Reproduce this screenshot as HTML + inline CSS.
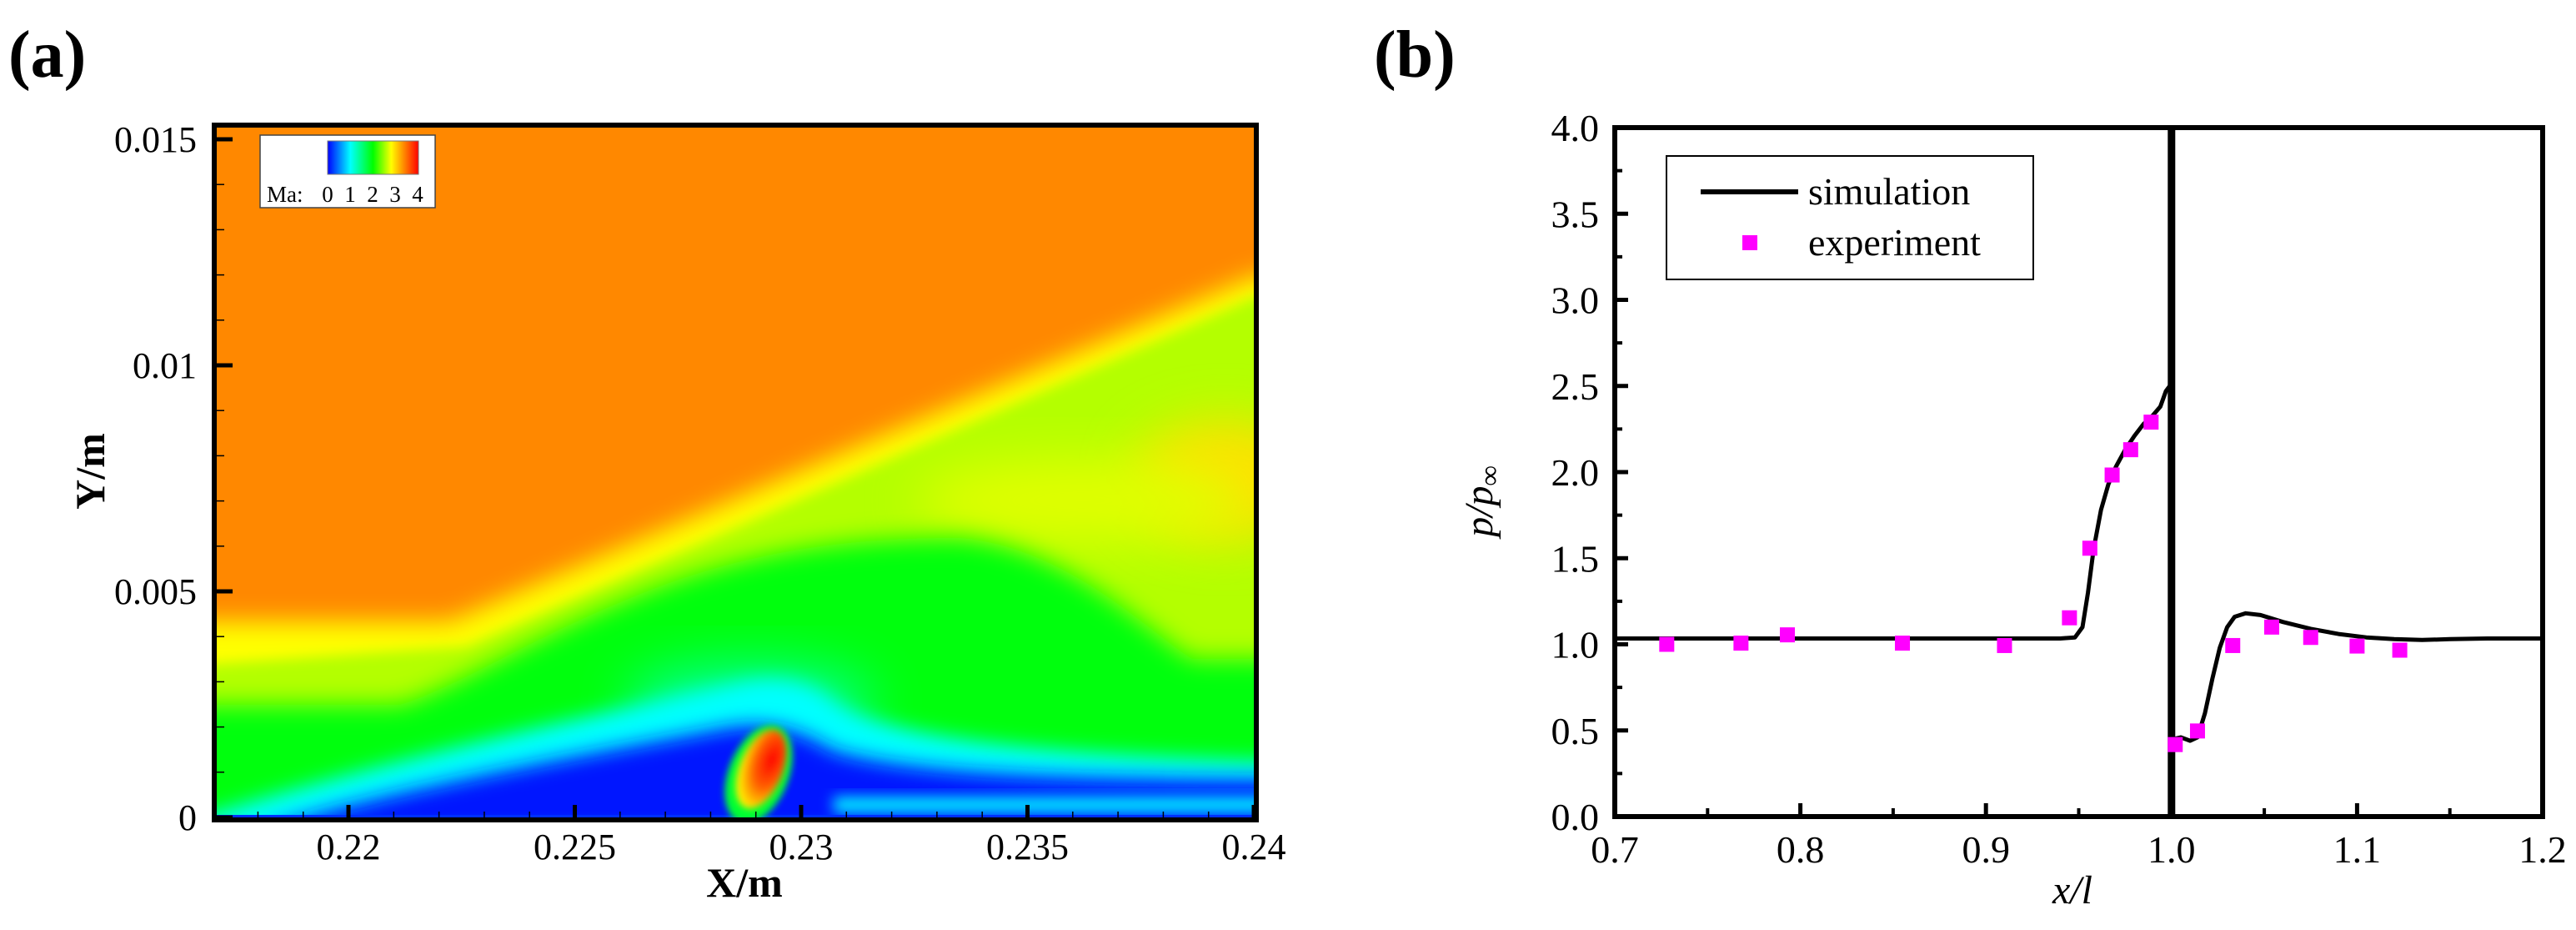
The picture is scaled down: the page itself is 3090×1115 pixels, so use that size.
<!DOCTYPE html>
<html><head><meta charset="utf-8"><style>
html,body{margin:0;padding:0;background:#fff;}
svg, svg text{font-family:"Liberation Serif","DejaVu Serif","Times New Roman",serif;}
</style></head><body>
<svg id="fig" width="3090" height="1110" viewBox="0 0 3090 1110" xmlns="http://www.w3.org/2000/svg">
<defs>
<clipPath id="clipA"><rect x="257" y="150" width="1250" height="833"/></clipPath>
<filter id="b4" x="-50%" y="-50%" width="200%" height="200%"><feGaussianBlur stdDeviation="4"/></filter>
<filter id="b8" x="-50%" y="-50%" width="200%" height="200%"><feGaussianBlur stdDeviation="8"/></filter>
<filter id="b12" x="-50%" y="-50%" width="200%" height="200%"><feGaussianBlur stdDeviation="12"/></filter>
<filter id="b15" x="-50%" y="-50%" width="200%" height="200%"><feGaussianBlur stdDeviation="15"/></filter>
<filter id="b30" x="-50%" y="-50%" width="200%" height="200%"><feGaussianBlur stdDeviation="30"/></filter>
<linearGradient id="cbar" x1="0" x2="1" y1="0" y2="0">
<stop offset="0" stop-color="#0000ff"/><stop offset="0.25" stop-color="#00ffff"/><stop offset="0.5" stop-color="#00ff00"/><stop offset="0.7" stop-color="#ffff00"/><stop offset="1" stop-color="#ff0000"/>
</linearGradient>
<radialGradient id="bub" cx="0.65" cy="0.35" r="0.65"><stop offset="0" stop-color="#ff0000"/><stop offset="0.55" stop-color="#ff6000"/><stop offset="1" stop-color="#ffee00"/></radialGradient>
</defs>

<text x="10" y="92" font-size="80" font-weight="bold">(a)</text>
<g clip-path="url(#clipA)">
<rect x="257" y="150" width="1250" height="833" fill="#ff8800"/>
<polygon points="200,745 540,745 1507,330 1600,330 1600,1000 200,1000" fill="#ffff00" filter="url(#b15)"/>
<polygon points="200,800 560,775 1507,355 1600,355 1600,1000 200,1000" fill="#b4ff00" filter="url(#b8)"/>
<ellipse cx="1470" cy="575" rx="110" ry="70" fill="#ffe000" filter="url(#b30)"/>
<ellipse cx="1300" cy="600" rx="200" ry="50" fill="#e0ff00" filter="url(#b30)"/>
<path d="M200,845 L480,845 C560,820 640,760 800,700 C900,665 1000,645 1150,645 C1280,655 1380,760 1430,790 L1600,790 L1600,1000 L200,1000 Z" fill="#00ff10" filter="url(#b15)"/>
<ellipse cx="900" cy="840" rx="150" ry="45" fill="#00ff90" filter="url(#b30)"/>
<path d="M200,985 L257,975 C400,930 600,880 880,820 C930,808 970,815 1000,840 C1060,880 1200,905 1600,915 L1600,1000 L200,1000 Z" fill="#00ffff" filter="url(#b12)"/>
<path d="M320,995 C450,950 700,905 860,875 C920,862 960,875 1000,900 C1100,930 1300,935 1600,935 L1600,1000 L320,1000 Z" fill="#0018ff" filter="url(#b12)"/>
<rect x="1000" y="955" width="600" height="20" fill="#00e8ff" filter="url(#b8)"/>
<rect x="257" y="977" width="1250" height="6" fill="#0030ff"/>
<ellipse cx="910" cy="928" rx="36" ry="62" transform="rotate(22 910 928)" fill="#00ff30" filter="url(#b4)"/>
<ellipse cx="913" cy="922" rx="26" ry="50" transform="rotate(22 913 922)" fill="url(#bub)" filter="url(#b4)"/>
</g>
<g>
<rect x="312" y="162" width="210" height="87" fill="#fff" stroke="#444" stroke-width="1.5"/>
<rect x="393" y="169" width="109" height="40" fill="url(#cbar)" stroke="#777" stroke-width="1"/>
<text x="320" y="242" font-size="27">Ma:</text>
<text x="393" y="242" font-size="27" text-anchor="middle">0</text>
<text x="420" y="242" font-size="27" text-anchor="middle">1</text>
<text x="447" y="242" font-size="27" text-anchor="middle">2</text>
<text x="474" y="242" font-size="27" text-anchor="middle">3</text>
<text x="501" y="242" font-size="27" text-anchor="middle">4</text>
</g>
<g id="axesA"></g>
<rect x="257" y="150" width="1250" height="833" fill="none" stroke="#000" stroke-width="6"/>
<text x="893" y="1075" font-size="50" font-weight="bold" text-anchor="middle">X/m</text>
<text x="0" y="0" font-size="50" font-weight="bold" text-anchor="middle" transform="translate(125 565) rotate(-90)">Y/m</text>

<text x="1648" y="92" font-size="80" font-weight="bold">(b)</text>
<g id="plotB"></g>
<rect x="1937" y="153" width="1113" height="826" fill="none" stroke="#000" stroke-width="6"/>
<g>
<rect x="1999" y="187" width="440" height="148" fill="#fff" stroke="#000" stroke-width="2"/>
<line x1="2040" y1="230" x2="2157" y2="230" stroke="#000" stroke-width="6"/>
<text x="2169" y="245" font-size="46">simulation</text>
<rect x="2090" y="282" width="18" height="18" fill="#ff00ff"/>
<text x="2169" y="306" font-size="46">experiment</text>
</g>
<text x="2486" y="1083" font-size="48" font-style="italic" text-anchor="middle">x/l</text>
<text x="0" y="0" font-size="48" font-style="italic" text-anchor="middle" transform="translate(1790 601) rotate(-90)">p/p<tspan font-size="34" dy="8">∞</tspan></text>
</svg>
<script>
const aXTicks=[0.22,0.225,0.23,0.235,0.24];
const aXTickLabels=["0.22","0.225","0.23","0.235","0.24"];
const aYTicks=[0,0.005,0.01,0.015];
const aYTickLabels=["0","0.005","0.01","0.015"];
const bXTicks=[0.7,0.8,0.9,1.0,1.1,1.2];
const bXTickLabels=["0.7","0.8","0.9","1.0","1.1","1.2"];
const bYTicks=[0,0.5,1.0,1.5,2.0,2.5,3.0,3.5,4.0];
const bYTickLabels=["0.0","0.5","1.0","1.5","2.0","2.5","3.0","3.5","4.0"];
const expX=[0.728,0.768,0.793,0.855,0.910,0.945,0.956,0.968,0.978,0.989,1.002,1.014,1.033,1.054,1.075,1.100,1.123];
const expY=[1.00,1.007,1.055,1.007,0.993,1.154,1.558,1.983,2.13,2.29,0.418,0.497,0.993,1.10,1.04,0.99,0.966];
const simX1=[0.70,0.80,0.90,0.940,0.948,0.952,0.955,0.958,0.962,0.966,0.970,0.975,0.980,0.985,0.990,0.994,0.997,0.999,1.000];
const simY1=[1.034,1.034,1.034,1.034,1.04,1.10,1.30,1.55,1.78,1.93,2.03,2.13,2.21,2.28,2.33,2.38,2.47,2.50,2.45];
const simX2=[1.001,1.005,1.010,1.014,1.018,1.022,1.026,1.030,1.034,1.040,1.048,1.060,1.075,1.090,1.105,1.120,1.135,1.150,1.170,1.200];
const simY2=[0.45,0.46,0.44,0.46,0.60,0.80,0.98,1.10,1.16,1.18,1.17,1.13,1.09,1.06,1.04,1.03,1.025,1.03,1.034,1.034];

const NS="http://www.w3.org/2000/svg";
function mk(tag,attrs,parent){const e=document.createElementNS(NS,tag);for(const k in attrs)e.setAttribute(k,attrs[k]);parent.appendChild(e);return e;}

const axL=257,axR=1507,axT=150,axB=983;
const ax=v=>418+(v-0.22)/0.005*271.5;
const ay=v=>980-v/0.005*271;
const gA=document.getElementById('axesA');
for(let i=0;i<aXTicks.length;i++){
  const t=mk('line',{x1:ax(aXTicks[i]),x2:ax(aXTicks[i]),y1:axB,y2:axB-18,stroke:'#000','stroke-width':5},gA);
  
  
  const l=mk('text',{x:ax(aXTicks[i]),y:1030,'font-size':44,'text-anchor':'middle'},gA);
  l.textContent=aXTickLabels[i];
  
  
}
for(let v=0.217;v<0.2401;v+=0.001){const x=ax(v);if(x>axL+3&&x<axR-3)mk('line',{x1:x,x2:x,y1:axB,y2:axB-10,stroke:'#000','stroke-width':1.5},gA);}
for(let i=0;i<aYTicks.length;i++){
  const t=mk('line',{x1:axL,x2:axL+22,y1:ay(aYTicks[i]),y2:ay(aYTicks[i]),stroke:'#000','stroke-width':5},gA);
  
  
  const l=mk('text',{x:236,y:ay(aYTicks[i])+15,'font-size':44,'text-anchor':'end'},gA);
  l.textContent=aYTickLabels[i];
  
  
}
for(let v=0;v<0.0153;v+=0.001){const y=ay(v);if(y>axT+3&&y<axB-3)mk('line',{x1:axL,x2:axL+12,y1:y,y2:y,stroke:'#000','stroke-width':1.5},gA);}

const bL=1937,bR=3050,bT=153,bB=979;
const bx=v=>bL+(v-0.7)/0.5*(bR-bL);
const by=v=>bB-v/4*(bB-bT);
const gB=document.getElementById('plotB');
for(let i=0;i<bXTicks.length;i++){
  const t=mk('line',{x1:bx(bXTicks[i]),x2:bx(bXTicks[i]),y1:bB,y2:bB-16,stroke:'#000','stroke-width':5},gB);
  
  
  const l=mk('text',{x:bx(bXTicks[i]),y:1034,'font-size':46,'text-anchor':'middle'},gB);
  l.textContent=bXTickLabels[i];
  
  
}
for(let v=0.75;v<1.2;v+=0.1){mk('line',{x1:bx(v),x2:bx(v),y1:bB,y2:bB-10,stroke:'#000','stroke-width':4},gB);}
for(let i=0;i<bYTicks.length;i++){
  const t=mk('line',{x1:bL,x2:bL+16,y1:by(bYTicks[i]),y2:by(bYTicks[i]),stroke:'#000','stroke-width':5},gB);
  
  
  const l=mk('text',{x:1918,y:by(bYTicks[i])+16,'font-size':46,'text-anchor':'end'},gB);
  l.textContent=bYTickLabels[i];
  
  
}
for(let v=0.25;v<4;v+=0.5){mk('line',{x1:bL,x2:bL+9,y1:by(v),y2:by(v),stroke:'#000','stroke-width':4},gB);}
const wall=mk('line',{x1:bx(1.0),x2:bx(1.0),y1:bT,y2:bB,stroke:'#000','stroke-width':9},gB);


function poly(xs,ys){return xs.map((x,i)=>bx(x).toFixed(1)+','+by(ys[i]).toFixed(1)).join(' ');}
const s1=mk('polyline',{points:poly(simX1,simY1),fill:'none',stroke:'#000','stroke-width':5,'stroke-linejoin':'round'},gB);


const s2=mk('polyline',{points:poly(simX2,simY2),fill:'none',stroke:'#000','stroke-width':5,'stroke-linejoin':'round'},gB);


for(let i=0;i<expX.length;i++){
  const r=mk('rect',{x:bx(expX[i])-9,y:by(expY[i])-9,width:18,height:18,fill:'#ff00ff'},gB);
  
  
}
</script>
</body></html>
